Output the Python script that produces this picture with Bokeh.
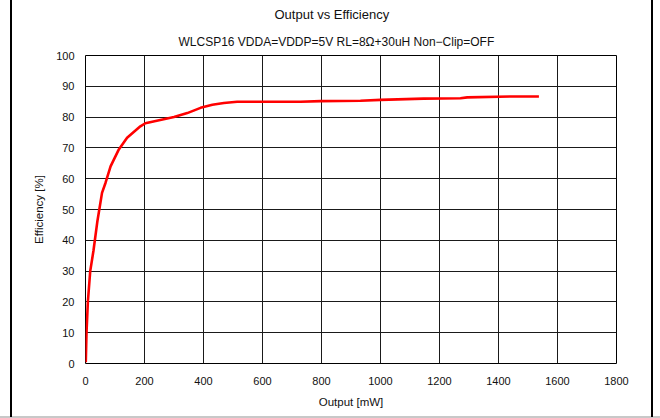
from bokeh.plotting import figure
from bokeh.models import Title, Range1d, InlineStyleSheet, FixedTicker
from bokeh.embed import file_html
from bokeh.resources import INLINE

# ---- data ----
output_mw = [1, 3.4, 8, 16, 27, 40, 56, 68, 85, 113, 141, 186, 203, 300, 345,
             390, 430, 469, 514, 661, 729, 797, 932, 1000, 1146, 1271, 1294,
             1441, 1537]
efficiency = [0.4, 10, 20, 30, 36.6, 46, 55.4, 58.7, 64, 69.5, 73.3, 77, 78,
              80, 81.3, 83, 84, 84.6, 85, 85, 85, 85.2, 85.3, 85.6, 86, 86.1,
              86.4, 86.7, 86.7]
x_ticks = [0, 200, 400, 600, 800, 1000, 1200, 1400, 1600, 1800]
y_ticks = [0, 10, 20, 30, 40, 50, 60, 70, 80, 90, 100]
title_text = "Output vs Efficiency"
subtitle_text = "WLCSP16 VDDA=VDDP=5V RL=8\u03a9+30uH Non\u2212Clip=OFF"

FONT = "Liberation Sans"
W, H = 660, 418
FL, FR, FT, FB = 85, 616, 54, 363

p = figure(width=W, height=H, output_backend="svg", toolbar_location=None,
           x_range=Range1d(0, 1800), y_range=Range1d(0, 100),
           min_border_left=FL, min_border_right=W - FR,
           min_border_top=FT, min_border_bottom=H - FB)
p.border_fill_color = None
p.background_fill_color = "white"
p.outline_line_color = "black"
p.outline_line_width = 1

p.stylesheets = [InlineStyleSheet(css="""
:host {
  background:
    linear-gradient(#000,#000) 10px 0 / 2px 417px no-repeat,
    linear-gradient(#000,#000) 651px 0 / 2px 417px no-repeat,
    linear-gradient(#c8c8c8,#c8c8c8) 0 416px / 660px 2px no-repeat,
    white;
}
""")]

for ax in (p.xaxis[0], p.yaxis[0]):
    ax.major_tick_in = 0
    ax.major_tick_out = 0
    ax.minor_tick_in = 0
    ax.minor_tick_out = 0
    ax.axis_line_color = None
    ax.major_label_text_font = FONT
    ax.major_label_text_font_size = "11px"
    ax.major_label_text_color = "#111111"
    ax.axis_label_text_font = FONT
    ax.axis_label_text_font_size = "11.5px"
    ax.axis_label_text_font_style = "normal"
    ax.axis_label_text_color = "#111111"

p.xaxis.major_label_standoff = 13
p.yaxis.major_label_standoff = 11
p.xaxis.ticker = FixedTicker(ticks=x_ticks)
p.yaxis.ticker = FixedTicker(ticks=y_ticks)
p.xaxis.axis_label = "Output [mW]"
p.yaxis.axis_label = "Efficiency [%]"
p.xaxis.axis_label_standoff = 8
p.yaxis.axis_label_standoff = 8

p.xgrid.ticker = FixedTicker(ticks=x_ticks)
p.ygrid.ticker = FixedTicker(ticks=y_ticks)
for g in (p.xgrid[0], p.ygrid[0]):
    g.grid_line_color = "#1a1a1a"
    g.grid_line_width = 1
    g.grid_line_alpha = 1

p.line(output_mw, efficiency, line_color="#ff0000", line_width=2.6)

# subtitle (closest to the frame), then main title above it
p.add_layout(Title(text=subtitle_text, align="left", offset=93,
                   standoff=13, text_font=FONT, text_font_size="12px",
                   text_font_style="normal", text_color="#111111"), "above")
p.add_layout(Title(text=title_text, align="left", offset=189,
                   standoff=9, text_font=FONT, text_font_size="13px",
                   text_font_style="normal", text_color="#111111"), "above")

open("out.html", "w").write(file_html(p, INLINE))
